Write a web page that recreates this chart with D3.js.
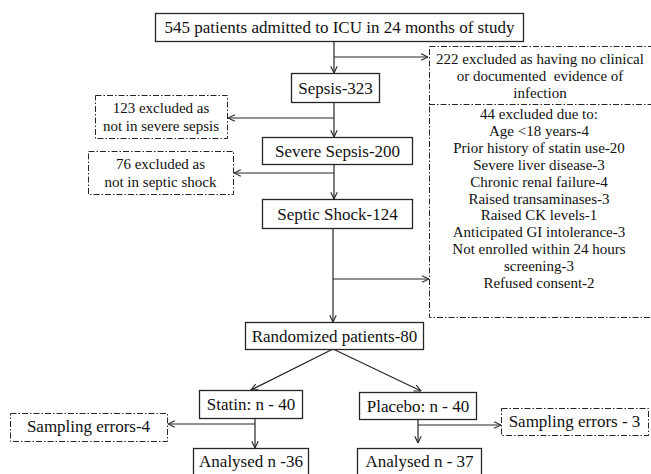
<!DOCTYPE html>
<html><head><meta charset="utf-8">
<script src="https://cdn.jsdelivr.net/npm/d3@7"></script>
<style>html,body{margin:0;padding:0;background:#fff;overflow:hidden;}svg{display:block;}
svg text{font-family:"Liberation Serif","Times New Roman",Times,"DejaVu Serif",serif;}</style>
</head><body>
<svg id="c" width="651" height="474"></svg>
<script>
// ---- data ----
const mainLabels = ["545 patients admitted to ICU in 24 months of study","Sepsis-323","Severe Sepsis-200","Septic Shock-124","Randomized patients-80"];
const armLabels = ["Statin: n - 40","Placebo: n - 40"];
const analysedLabels = ["Analysed n -36","Analysed n - 37"];
const samplingLabels = ["Sampling errors-4","Sampling errors - 3"];
const excludedLeft = [["123 excluded as","not in severe sepsis"],["76 excluded as","not in septic shock"]];
const excludedNoInfection = ["222 excluded as having no clinical","or documented  evidence of","infection"];
const excludedCriteria = ["44 excluded due to:","Age <18 years-4","Prior history of statin use-20","Severe liver disease-3","Chronic renal failure-4","Raised transaminases-3","Raised CK levels-1","Anticipated GI intolerance-3","Not enrolled within 24 hours","screening-3","Refused consent-2"];

// ---- layout (positions, separate from data) ----
const solidBoxes = [
  {b:[155,13,523,41], t:mainLabels[0]},
  {b:[291,73,379,102], t:mainLabels[1]},
  {b:[262,137,412,164], t:mainLabels[2]},
  {b:[262,199,412,228], t:mainLabels[3]},
  {b:[245,322,423,349], t:mainLabels[4]},
  {b:[199,390,302,418], t:armLabels[0]},
  {b:[359,392,476,419], t:armLabels[1]},
  {b:[193,448,308,478], t:analysedLabels[0], ty:467},
  {b:[357,448,481,478], t:analysedLabels[1], ty:467}
];
const dashBoxes = [
  [429,46,651,317],[95,95,227,138],[88,151,233,194],[10,413,167,441],[501,408,648,435]
];
const arrows = [
  [[334,41],[334,73]],
  [[334,57],[428,57]],
  [[334,102],[334,137]],
  [[334,118],[228,118]],
  [[334,164],[334,199]],
  [[334,173],[234,173]],
  [[333,228],[333,322]],
  [[333,279],[429,279]],
  [[333,349],[251,390]],
  [[333,349],[421,391]],
  [[255,418],[255,448]],
  [[255,424],[168,424]],
  [[418,419],[418,443]],
  [[418,425],[501,425]]
];

const svg = d3.select("#c");
const ink = "#262626";

svg.append("defs").append("marker")
  .attr("id","arr").attr("markerUnits","userSpaceOnUse")
  .attr("viewBox","0 0 10 10").attr("refX",9.5).attr("refY",5)
  .attr("markerWidth",8).attr("markerHeight",8).attr("orient","auto")
  .append("path").attr("d","M1,1 L9.5,5 L1,9").attr("fill","none")
  .attr("stroke",ink).attr("stroke-width",1.4);

const line = d3.line();
svg.append("g").selectAll("path").data(arrows).join("path")
  .attr("d",d=>line(d)).attr("fill","none").attr("stroke",ink)
  .attr("stroke-width",1.2).attr("marker-end","url(#arr)");

// dashed boxes
const dg = svg.append("g");
dg.selectAll("rect").data(dashBoxes).join("rect")
  .attr("x",d=>d[0]+0.5).attr("y",d=>d[1]+0.5)
  .attr("width",d=>d[2]-d[0]).attr("height",d=>d[3]-d[1])
  .attr("fill","#fff").attr("stroke",ink).attr("stroke-width",1)
  .attr("stroke-dasharray","6,2,1.5,2");
dg.append("line").attr("x1",429).attr("x2",651).attr("y1",104.5).attr("y2",104.5)
  .attr("stroke",ink).attr("stroke-width",1).attr("stroke-dasharray","6,2,1.5,2");

// solid boxes
const sg = svg.append("g").selectAll("g").data(solidBoxes).join("g");
sg.append("rect")
  .attr("x",d=>d.b[0]+0.5).attr("y",d=>d.b[1]+0.5)
  .attr("width",d=>d.b[2]-d.b[0]).attr("height",d=>d.b[3]-d.b[1])
  .attr("fill","#fff").attr("stroke",ink).attr("stroke-width",1.3);
sg.append("text")
  .attr("x",d=>(d.b[0]+d.b[2])/2+0.5).attr("y",d=>d.ty!==undefined?d.ty:(d.b[1]+d.b[3])/2+6)
  .attr("text-anchor","middle").attr("font-size",17)
  .attr("fill","#111").text(d=>d.t);

function textLines(lines, cx, y0, dy, fs){
  svg.append("g").selectAll("text").data(lines).join("text")
    .attr("x",cx).attr("y",(d,i)=>y0+i*dy)
    .attr("text-anchor","middle").attr("font-size",fs)
    .attr("fill","#111").style("white-space","pre").text(d=>d);
}
textLines(excludedLeft[0],161,113,18,15);
textLines(excludedLeft[1],160.5,169,18,15);
textLines(excludedNoInfection,540,64,16.8,15);
textLines(excludedCriteria,539,119,16.9,15);
textLines([samplingLabels[0]],88.5,432,0,17);
textLines([samplingLabels[1]],574.5,427,0,17);
</script>
</body></html>
